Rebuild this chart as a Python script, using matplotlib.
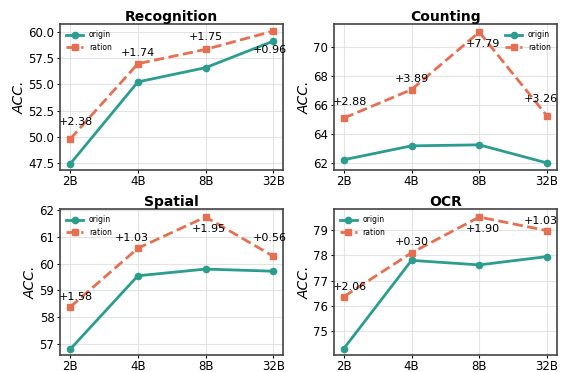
import matplotlib
matplotlib.use("Agg")
import matplotlib.pyplot as plt

# x categories (model sizes)
sizes = ["2B", "4B", "8B", "32B"]

titles = ["Recognition", "Counting", "Spatial", "OCR"]

origin_vals = {
    "Recognition": [47.40, 55.24, 56.60, 59.14],
    "Counting": [62.22, 63.18, 63.25, 62.00],
    "Spatial": [56.80, 59.55, 59.80, 59.72],
    "OCR": [74.30, 77.80, 77.62, 77.95],
}
ration_vals = {
    "Recognition": [49.78, 56.98, 58.35, 60.10],
    "Counting": [65.10, 67.07, 71.04, 65.26],
    "Spatial": [58.38, 60.58, 61.75, 60.28],
    "OCR": [76.36, 78.10, 79.52, 78.98],
}
gains = {
    "Recognition": ["+2.38", "+1.74", "+1.75", "+0.96"],
    "Counting": ["+2.88", "+3.89", "+7.79", "+3.26"],
    "Spatial": ["+1.58", "+1.03", "+1.95", "+0.56"],
    "OCR": ["+2.06", "+0.30", "+1.90", "+1.03"],
}

# label offsets from the ration marker, in pixels (dx, dy up)
label_offset = {
    "Recognition": [(6, 17), (0, 11), (0, 12), (-3, -19)],
    "Counting": [(6, 16), (0, 11), (4, -12), (-6, 17)],
    "Spatial": [(6, 10), (-6, 10), (3, -12), (-3, 18)],
    "OCR": [(6, 10), (0, 11), (4, -12), (-6, 10)],
}
ylims = {
    "Recognition": (46.83, 60.76),
    "Counting": (61.52, 71.59),
    "Spatial": (56.59, 62.04),
    "OCR": (74.05, 79.83),
}
yticks = {
    "Recognition": [47.5, 50.0, 52.5, 55.0, 57.5, 60.0],
    "Counting": [62, 64, 66, 68, 70],
    "Spatial": [57, 58, 59, 60, 61, 62],
    "OCR": [75, 76, 77, 78, 79],
}
legend_loc = {"Recognition": "upper left", "Counting": "upper right",
              "Spatial": "upper left", "OCR": "upper left"}

c_origin = "#2a9d8f"
c_ration = "#e76f51"

fig, axes = plt.subplots(2, 2, figsize=(5.61, 3.72), dpi=100)
plt.subplots_adjust(left=0.107, right=0.993, top=0.935, bottom=0.046,
                    hspace=0.27, wspace=0.225)

x = list(range(len(sizes)))
for ax, name in zip(axes.flat, titles):
    ax.plot(x, origin_vals[name], color=c_origin, lw=2, marker="o",
            ms=4.5, label="origin")
    ax.plot(x, ration_vals[name], color=c_ration, lw=2, ls="--",
            marker="s", ms=4.5, label="ration")
    for xi, yv, g, (dx, dy) in zip(x, ration_vals[name], gains[name],
                                   label_offset[name]):
        ax.annotate(g, (xi, yv), xytext=(dx * 0.72, dy * 0.72),
                    textcoords="offset points",
                    ha="center", va="center", fontsize=8)
    ax.set_title(name, fontsize=10, fontweight="bold", pad=2)
    ax.set_ylabel("ACC.", fontsize=10, style="italic", labelpad=1)
    ax.set_xticks(x)
    ax.set_xticklabels(sizes)
    ax.set_yticks(yticks[name])
    if name == "Recognition":
        ax.set_yticklabels([f"{v:.1f}" for v in yticks[name]])
    ax.set_ylim(*ylims[name])
    ax.tick_params(labelsize=8.5, length=2.5, pad=1.5)
    ax.grid(True, color="#e3e3e3", lw=0.8)
    ax.set_axisbelow(True)
    for sp in ax.spines.values():
        sp.set_color("#444444")
        sp.set_linewidth(1.2)
    ax.legend(loc=legend_loc[name], fontsize=5.5, frameon=False,
              handlelength=2.2, borderaxespad=0.4, labelspacing=0.5)

fig.savefig("out.png", dpi=100)
